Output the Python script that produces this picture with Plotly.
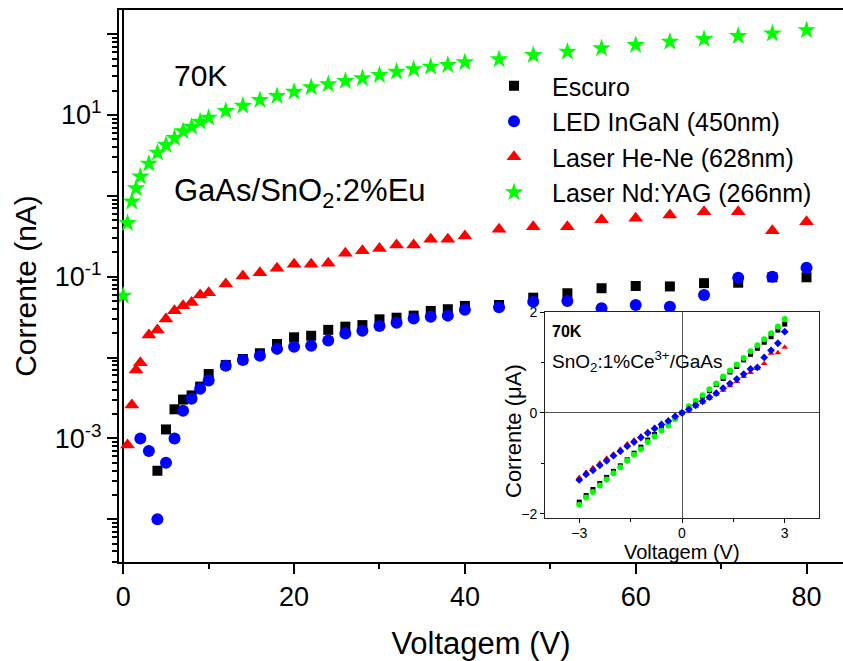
import plotly.graph_objects as go

FONT = "Liberation Sans, Arial, sans-serif"

# ---------------- main chart data (Voltagem V, Corrente nA) ----------------
x_green = [0, 0.5, 1, 1.5, 2, 3, 4, 5, 6, 7, 8, 9, 10,
           12, 14, 16, 18, 20, 22, 24, 26, 28, 30, 32, 34, 36, 38, 40,
           44, 48, 52, 56, 60, 64, 68, 72, 76, 80]
y_green = [0.058, 0.46, 0.85, 1.24, 1.73, 2.5, 3.42, 4.26, 5.2, 6.3, 7.17, 8.26, 9.27,
           11.2, 13.0, 15.3, 17.2, 19.4, 22.0, 24.0, 26.3, 28.4, 31.2, 34.3, 36.7, 39.6, 41.5, 44.9,
           48.8, 55.2, 60.7, 66.8, 73.4, 80.7, 87.1, 94.8, 102, 112]

x_red = [0.5, 1, 1.5, 2, 3, 4, 5, 6, 7, 8, 9, 10,
         12, 14, 16, 18, 20, 22, 24, 26, 28, 30, 32, 34, 36, 38, 40,
         44, 48, 52, 56, 60, 64, 68, 72, 76, 80]
y_red = [0.00083, 0.00259, 0.0070, 0.00863, 0.019, 0.0219, 0.030, 0.038, 0.0437, 0.0478, 0.0594, 0.0634,
         0.081, 0.102, 0.112, 0.127, 0.143, 0.143, 0.147, 0.195, 0.21, 0.224, 0.246, 0.246, 0.29, 0.29, 0.318,
         0.385, 0.415, 0.415, 0.506, 0.527, 0.58, 0.637, 0.637, 0.371, 0.48]

x_black = [4, 5, 6, 7, 8, 9, 10,
           12, 14, 16, 18, 20, 22, 24, 26, 28, 30, 32, 34, 36, 38, 40,
           44, 48, 52, 56, 60, 64, 68, 72, 76, 80]
y_black = [0.000398, 0.00129, 0.00229, 0.00302, 0.0034, 0.00437, 0.00625,
           0.0081, 0.0096, 0.0113, 0.0147, 0.0178, 0.0186, 0.022, 0.0241, 0.0252, 0.0297, 0.0311, 0.033, 0.0377, 0.0396, 0.0435,
           0.0447, 0.055, 0.0624, 0.072, 0.0768, 0.0758, 0.0832, 0.0843, 0.0983, 0.0983]

x_blue = [2, 3, 4, 5, 6, 7, 8, 9, 10,
          12, 14, 16, 18, 20, 22, 24, 26, 28, 30, 32, 34, 36, 38, 40,
          44, 48, 52, 56, 60, 64, 68, 72, 76, 80]
y_blue = [0.001, 0.0007, 0.0001, 0.0005, 0.001, 0.0022, 0.0031, 0.0041, 0.0052,
          0.0079, 0.0093, 0.0105, 0.0128, 0.0136, 0.014, 0.0162, 0.0199, 0.0215, 0.0245, 0.027, 0.0305, 0.032, 0.033, 0.039,
          0.0418, 0.049, 0.050, 0.0407, 0.0447, 0.0426, 0.0594, 0.0973, 0.1, 0.129]

names = ["Escuro", "LED InGaN (450nm)", "Laser He-Ne (628nm)", "Laser Nd:YAG (266nm)"]

# ---------------- inset data (Voltagem V, Corrente uA) ----------------
v_in = [-3.0, -2.8, -2.6, -2.4, -2.2, -2.0, -1.8, -1.6, -1.4, -1.2, -1.0, -0.8, -0.6, -0.4, -0.2,
        0.0, 0.2, 0.4, 0.6, 0.8, 1.0, 1.2, 1.4, 1.6, 1.8, 2.0, 2.2, 2.4, 2.6, 2.8, 3.0]
i_black = [-1.77, -1.64, -1.52, -1.40, -1.28, -1.16, -1.05, -0.93, -0.80, -0.68, -0.54, -0.43, -0.31, -0.21, -0.10,
           0.0, 0.11, 0.22, 0.33, 0.44, 0.56, 0.68, 0.81, 0.92, 1.05, 1.16, 1.28, 1.40, 1.51, 1.64, 1.76]
i_green = [-1.82, -1.68, -1.57, -1.44, -1.32, -1.20, -1.08, -0.95, -0.83, -0.72, -0.58, -0.47, -0.35, -0.25, -0.12,
           0.0, 0.13, 0.24, 0.35, 0.47, 0.58, 0.72, 0.84, 0.96, 1.09, 1.22, 1.34, 1.46, 1.58, 1.71, 1.86]
i_red = [-1.28, -1.18, -1.09, -1.00, -0.90, -0.82, -0.72, -0.62, -0.54, -0.46, -0.37, -0.29, -0.21, -0.15, -0.05,
         0.0, 0.05, 0.13, 0.21, 0.29, 0.37, 0.45, 0.54, 0.62, 0.72, 0.80, 0.88, 0.98, 1.18, 1.19, 1.30]
i_blue = [-1.33, -1.22, -1.14, -1.04, -0.95, -0.85, -0.76, -0.66, -0.58, -0.49, -0.40, -0.31, -0.23, -0.16, -0.07,
          0.0, 0.07, 0.15, 0.23, 0.31, 0.39, 0.49, 0.58, 0.67, 0.77, 0.87, 0.90, 1.10, 1.24, 1.38, 1.61]

y_major = [1e-4, 1e-3, 1e-2, 1e-1, 1e0, 1e1, 1e2]
y_major_text = ["", "10<sup>-3</sup>", "", "10<sup>-1</sup>", "", "10<sup>1</sup>", ""]
y_minor = [k * 10.0 ** n for n in range(-5, 3) for k in range(2, 10)]

fig = go.Figure()

fig.add_trace(go.Scatter(x=x_black, y=y_black, mode="markers", name=names[0],
                         marker=dict(symbol="square", size=10, color="#000000")))
fig.add_trace(go.Scatter(x=x_blue, y=y_blue, mode="markers", name=names[1],
                         marker=dict(symbol="circle", size=12, color="#0000FF")))
fig.add_trace(go.Scatter(x=x_red, y=y_red, mode="markers", name=names[2],
                         marker=dict(symbol="triangle-up", size=13, color="#FF0000")))
fig.add_trace(go.Scatter(x=x_green, y=y_green, mode="markers", name=names[3],
                         marker=dict(symbol="star", size=14, color="#00FF00")))

# inset traces
fig.add_trace(go.Scatter(x=v_in, y=i_black, mode="markers", xaxis="x2", yaxis="y2", showlegend=False,
                         marker=dict(symbol="square", size=5, color="#000000")))
fig.add_trace(go.Scatter(x=v_in, y=i_green, mode="markers", xaxis="x2", yaxis="y2", showlegend=False,
                         marker=dict(symbol="circle", size=6, color="#00FF00")))
fig.add_trace(go.Scatter(x=v_in, y=i_red, mode="markers", xaxis="x2", yaxis="y2", showlegend=False,
                         marker=dict(symbol="triangle-up", size=6, color="#FF0000")))
fig.add_trace(go.Scatter(x=v_in, y=i_blue, mode="markers", xaxis="x2", yaxis="y2", showlegend=False,
                         marker=dict(symbol="diamond", size=6, color="#0000FF")))

W, H = 843, 661
ML, MR, MT, MB = 119, 0, 10, 99
PW = W - ML - MR
PH = H - MT - MB


def px(xp):
    return (xp - ML) / PW


def py(yp):
    return (H - MB - yp) / PH


fig.update_layout(
    width=W, height=H,
    margin=dict(l=ML, r=MR, t=MT, b=MB, autoexpand=False),
    paper_bgcolor="white", plot_bgcolor="white",
    font=dict(family=FONT, color="black"),
    showlegend=True,
    legend=dict(x=px(476), y=py(63), xanchor="left", yanchor="top",
                font=dict(family=FONT, size=25, color="black"),
                bgcolor="rgba(0,0,0,0)", borderwidth=0, itemwidth=66,
                tracegroupgap=0),
    xaxis=dict(range=[-0.5, 84.27], domain=[0, 1],
               tickmode="array", tickvals=[0, 20, 40, 60, 80],
               ticks="outside", ticklen=10, tickwidth=2, tickcolor="black",
               minor=dict(tickmode="array", tickvals=[10, 30, 50, 70], ticks="outside",
                          ticklen=5, tickwidth=2, tickcolor="black"),
               showline=True, linecolor="black", linewidth=2, mirror=True,
               showgrid=False, zeroline=True, zerolinecolor="black", zerolinewidth=1.5,
               tickfont=dict(family=FONT, size=27),
               title=dict(text="Voltagem (V)", font=dict(family=FONT, size=31), standoff=24)),
    yaxis=dict(type="log", range=[-4.529, 2.299], domain=[0, 1],
               tickmode="array", tickvals=y_major, ticktext=y_major_text,
               ticks="outside", ticklen=10, tickwidth=2, tickcolor="black",
               minor=dict(tickmode="array", tickvals=y_minor, ticks="outside",
                          ticklen=5, tickwidth=1.5, tickcolor="black"),
               showline=True, linecolor="black", linewidth=2, mirror=False,
               showgrid=False, zeroline=False,
               tickfont=dict(family=FONT, size=27),
               title=dict(text="Corrente (nA)", font=dict(family=FONT, size=30), standoff=9)),
    xaxis2=dict(domain=[px(545), px(819)], anchor="y2", range=[-4, 4],
                tickmode="array", tickvals=[-3, 0, 3],
                ticks="outside", ticklen=4, tickwidth=1, tickcolor="black",
                minor=dict(tickmode="array", tickvals=[-1.5, 1.5], ticks="outside",
                           ticklen=3, tickwidth=1, tickcolor="black"),
                showline=True, linecolor="#222222", linewidth=1, mirror=True,
                showgrid=False, zeroline=True, zerolinecolor="#555555", zerolinewidth=1,
                ticklabelstandoff=-2,
                tickfont=dict(family=FONT, size=14)),
    yaxis2=dict(domain=[py(518), py(312)], anchor="x2", range=[-2.085, 2.0],
                tickmode="array", tickvals=[-2, 0, 2],
                ticks="outside", ticklen=4, tickwidth=1, tickcolor="black",
                minor=dict(tickmode="array", tickvals=[-1, 1], ticks="outside",
                           ticklen=3, tickwidth=1, tickcolor="black"),
                showline=True, linecolor="#222222", linewidth=1, mirror=True,
                showgrid=False, zeroline=True, zerolinecolor="#555555", zerolinewidth=1,
                tickfont=dict(family=FONT, size=14)),
)

fig.add_annotation(text="70K", xref="paper", yref="paper", x=px(172), y=py(76),
                   xanchor="left", yanchor="middle", showarrow=False,
                   font=dict(family=FONT, size=30, color="black"))
fig.add_annotation(text="GaAs/SnO<sub>2</sub>:2%Eu", xref="paper", yref="paper", x=px(172), y=py(193),
                   xanchor="left", yanchor="middle", showarrow=False,
                   font=dict(family=FONT, size=31, color="black"))
fig.add_annotation(text="<b>70K</b>", xref="paper", yref="paper", x=px(550), y=py(332),
                   xanchor="left", yanchor="middle", showarrow=False,
                   font=dict(family=FONT, size=16, color="black"))
fig.add_annotation(text="SnO<sub>2</sub>:1%Ce<sup>3+</sup>/GaAs", xref="paper", yref="paper",
                   x=px(550), y=py(361), xanchor="left", yanchor="middle", showarrow=False,
                   font=dict(family=FONT, size=19, color="black"))
# inset axis titles
fig.add_annotation(text="Voltagem (V)", xref="paper", yref="paper", x=px(682), y=py(552),
                   xanchor="center", yanchor="middle", showarrow=False,
                   font=dict(family=FONT, size=20, color="black"))
fig.add_annotation(text="Corrente (μA)", xref="paper", yref="paper", x=px(514), y=py(431),
                   xanchor="center", yanchor="middle", showarrow=False, textangle=-90,
                   font=dict(family=FONT, size=22, color="black"))

fig.write_html("out.html", config={"displayModeBar": False},
               post_script="document.body.style.margin='0';")
